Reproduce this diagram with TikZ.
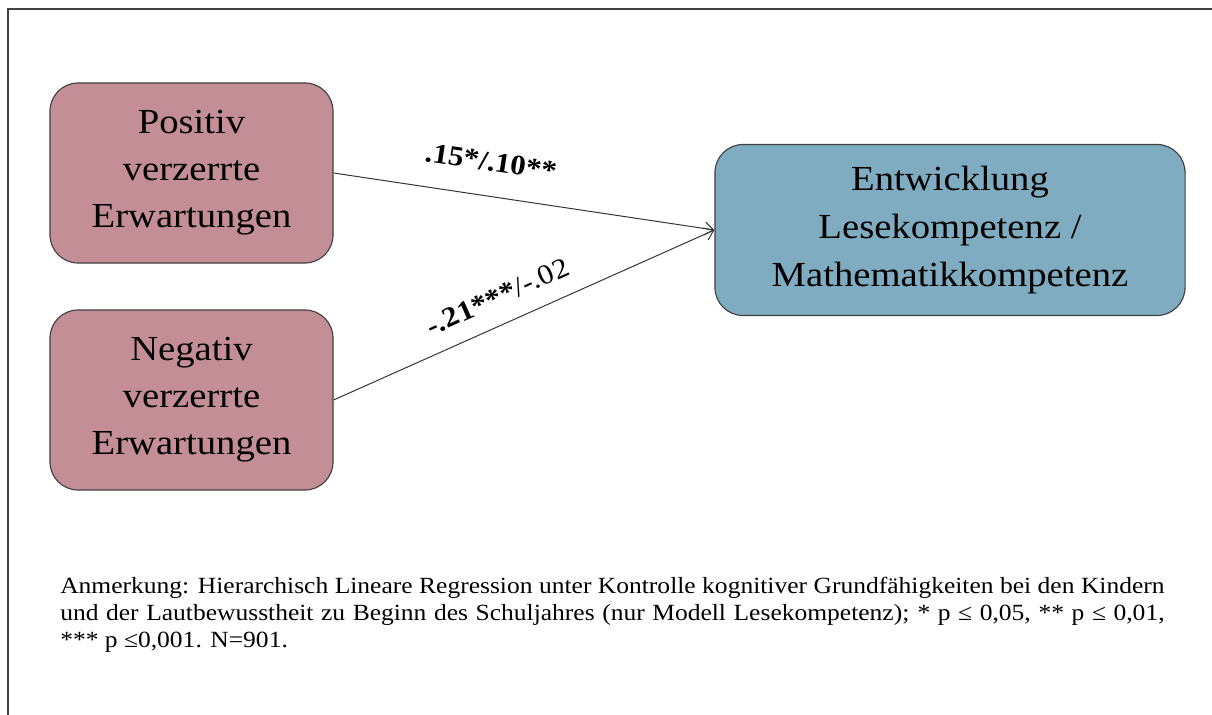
\documentclass[tikz,border=0pt]{standalone}
\usepackage{fontspec}
\setmainfont{Liberation Serif}[FakeStretch=1.1]
\usepackage{tikz}
\usetikzlibrary{arrows.meta}
\definecolor{boxrose}{RGB}{196,142,151}
\definecolor{boxblue}{RGB}{127,172,192}
\definecolor{rimgray}{RGB}{64,64,64}

\begin{document}
\begin{tikzpicture}[x = .025cm, y = -.025cm,
  predbox/.style = {draw = rimgray, fill = boxrose, line width = .8pt,
    rounded corners = 20pt, minimum width = 7.075cm, minimum height = 4.5cm,
    align = center, font = \fontsize{25}{33.4}\selectfont},
  outbox/.style = {draw = rimgray, fill = boxblue, line width = .8pt,
    rounded corners = 20pt, minimum width = 11.75cm, minimum height = 4.275cm,
    align = center, font = \fontsize{25}{34}\selectfont},
  path/.style = {draw = rimgray!80!black, line width = .7pt,
    -{Straight Barb[length = 2.2mm, width = 3.2mm]}},
  coef/.style = {sloped, font = \fontsize{20}{24}\selectfont}]
\useasboundingbox (0, 0) rectangle (1212, 715);
\draw[line width = 1.4pt, rimgray] (1212, 9) -- (8, 9) -- (8, 715);
\node[predbox] (pos) at (191.5, 173) {Positiv\\verzerrte\\Erwartungen};
\node[predbox] (neg) at (191.5, 400) {Negativ\\verzerrte\\Erwartungen};
\node[outbox] (dev) at (950, 230) {Entwicklung\\Lesekompetenz /\\Mathematikkompetenz};
\draw[path] (pos.east) to node[coef, above = 14pt, pos = .4] {\textbf{.15*/.10**}} (dev.west);
\draw[path] (neg.east) to node[coef, above = 9pt, pos = .46] {\textbf{-.21***}/-.02} (dev.west);
\node[anchor = north west, inner sep = 0pt, text width = 27.6cm, align = justify,
      font = \fontsize{16.5}{19}\selectfont] (note) at (60, 577)
  {Anmerkung: Hierarchisch Lineare Regression unter Kontrolle kognitiver Grundfähigkeiten bei den Kindern\linebreak
   und der Lautbewusstheit zu Beginn des Schuljahres (nur Modell Lesekompetenz); * p ≤ 0,05, ** p ≤ 0,01,\linebreak
   *** p ≤0,001. N=901.};
\end{tikzpicture}
\end{document}
